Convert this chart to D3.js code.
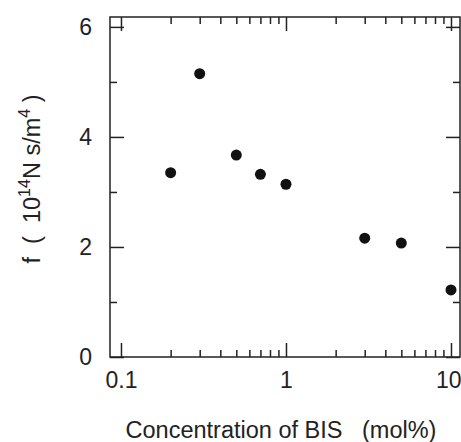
<!DOCTYPE html>
<html>
<head>
<meta charset="utf-8">
<script src="https://cdn.jsdelivr.net/npm/d3@7"></script>
<style>
  body { margin: 0; background: #fff; }
  text { font-family: "Liberation Sans", Arial, sans-serif; fill: #222; }
</style>
</head>
<body>
<div class="canvas"></div>
<script>
// concentration of BIS (mol%) and f (10^14 N s/m^4)
var conc = [0.2, 0.3, 0.5, 0.7, 1, 3, 5, 10];
var fVals = [3.35, 5.15, 3.67, 3.32, 3.14, 2.16, 2.07, 1.22];
var xMajor = [0.1, 1, 10];
var yMajor = [0, 2, 4, 6];
var yMinor = [1, 3, 5];

(function drawChart() {
  var width = 461;
  var height = 442;
  var mLeft = 110, mRight = 460, mTop = 17, mBottom = 357;

  var x = d3.scaleLog().domain([0.0858, 11.34]).range([mLeft, mRight]);
  var y = d3.scaleLinear().domain([0, 6.18]).range([mBottom, mTop]);

  var xMinor = [];
  [0.1, 1].forEach(function (dec) {
    for (var k = 2; k <= 9; k++) xMinor.push(dec * k);
  });

  var svg = d3.select(".canvas").append("svg")
    .attr("width", width).attr("height", height);

  var stroke = "#222";
  var bigTick = 14, smallTick = 7;

  // frame
  svg.append("rect")
    .attr("x", mLeft).attr("y", mTop)
    .attr("width", mRight - mLeft).attr("height", mBottom - mTop)
    .attr("fill", "none").attr("stroke", stroke).attr("stroke-width", 1.5);

  // axes with inward ticks
  function addAxis(axis, tx, ty) {
    var g = svg.append("g").attr("transform", "translate(" + tx + "," + ty + ")").call(axis);
    g.select(".domain").remove();
    g.selectAll("line").attr("stroke", stroke).attr("stroke-width", 1.5);
    g.attr("font-family", null).attr("font-size", null);
    return g;
  }

  var xb = addAxis(d3.axisBottom(x).tickValues(xMajor).tickSize(-bigTick).tickPadding(15)
    .tickFormat(d3.format("")), 0, mBottom);
  xb.selectAll("text").style("font-size", "23px").attr("fill", "#222");
  // last label sits flush against the right edge, as in the original
  xb.selectAll("text").filter(function (d) { return d === 10; })
    .attr("text-anchor", "end").attr("x", mRight - x(10) + 1);
  addAxis(d3.axisBottom(x).tickValues(xMinor).tickSize(-smallTick).tickFormat(""), 0, mBottom);
  addAxis(d3.axisTop(x).tickValues(xMajor).tickSize(-bigTick).tickFormat(""), 0, mTop);
  addAxis(d3.axisTop(x).tickValues(xMinor).tickSize(-smallTick).tickFormat(""), 0, mTop);

  var yl = addAxis(d3.axisLeft(y).tickValues(yMajor).tickSize(-bigTick).tickPadding(18)
    .tickFormat(d3.format("d")), mLeft, 0);
  yl.selectAll("text").style("font-size", "23px").attr("fill", "#222");
  addAxis(d3.axisLeft(y).tickValues(yMinor).tickSize(-smallTick).tickFormat(""), mLeft, 0);
  addAxis(d3.axisRight(y).tickValues(yMajor).tickSize(-bigTick).tickFormat(""), mRight, 0);
  addAxis(d3.axisRight(y).tickValues(yMinor).tickSize(-smallTick).tickFormat(""), mRight, 0);

  // points
  svg.append("g").selectAll("circle")
    .data(conc)
    .enter()
    .append("circle")
    .attr("cx", function (d) { return x(d); })
    .attr("cy", function (d, i) { return y(fVals[i]); })
    .attr("r", 5.5)
    .attr("fill", "#111");

  // x title
  svg.append("text")
    .attr("x", 281).attr("y", 438)
    .attr("text-anchor", "middle")
    .style("font-size", "23.5px")
    .attr("xml:space", "preserve")
    .text("Concentration of BIS   (mol%)");

  // y title
  var yt = svg.append("text")
    .attr("transform", "translate(40,179) rotate(-90)")
    .attr("text-anchor", "middle")
    .style("font-size", "23.5px")
    .attr("xml:space", "preserve");
  yt.append("tspan").text("f  (  10");
  yt.append("tspan").attr("dy", -10).style("font-size", "16px").text("14");
  yt.append("tspan").attr("dy", 10).text("N s/m");
  yt.append("tspan").attr("dy", -10).style("font-size", "16px").text("4");
  yt.append("tspan").attr("dy", 10).text(" )");
})();
</script>
</body>
</html>
